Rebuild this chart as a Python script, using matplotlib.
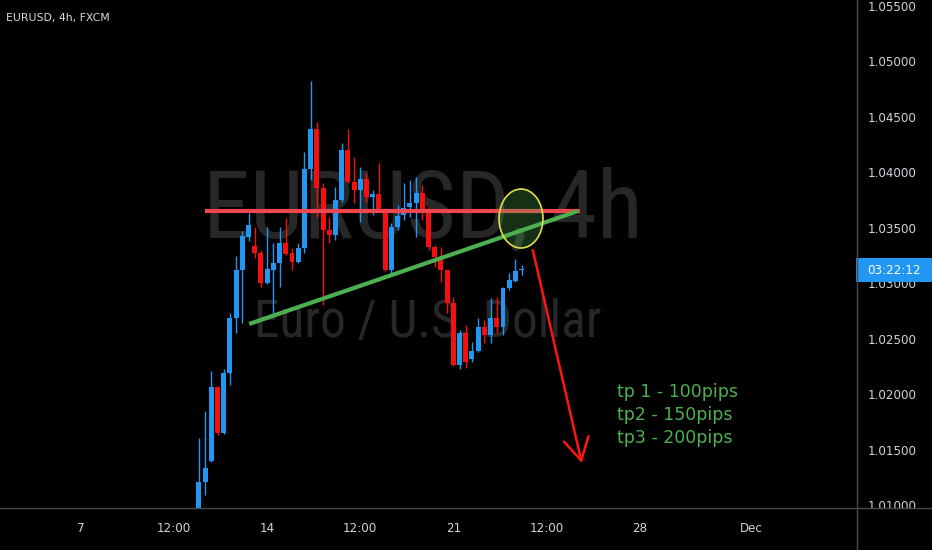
import matplotlib
matplotlib.use('Agg')
import matplotlib.pyplot as plt
from matplotlib import font_manager as fm
from matplotlib.patches import Rectangle, Ellipse
from matplotlib.lines import Line2D
from matplotlib.transforms import blended_transform_factory
import numpy as np

# ---------------- data ----------------
symbol_title = "EURUSD, 4h, FXCM"
watermark = "EURUSD, 4h"
watermark_sub = "Euro / U.S. Dollar"
countdown = "03:22:12"

# bar number (4h bars, weekends skipped; bar 0 = Mon 7 Nov 00:00)
bar_index = list(range(19, 72))
opens = [1.00850, 1.01207, 1.01400, 1.02063, 1.01649, 1.02189, 1.02685, 1.03117, 1.03414, 1.03333,
         1.03270, 1.03000, 1.03117, 1.03180, 1.03360, 1.03270, 1.03189, 1.03315, 1.04027, 1.04387,
         1.03856, 1.03477, 1.03432, 1.03748, 1.04198, 1.03910, 1.03838, 1.03937, 1.03775, 1.03802,
         1.03658, 1.03117, 1.03505, 1.03613, 1.03685, 1.03721, 1.03811, 1.03640, 1.03324, 1.03234,
         1.03117, 1.02820, 1.02261, 1.02550, 1.02315, 1.02387, 1.02604, 1.02532, 1.02685, 1.02604,
         1.02955, 1.03018, 1.03117]
highs = [1.01604, 1.01847, 1.02207, 1.02070, 1.02225, 1.02730, 1.03243, 1.03468, 1.03631, 1.03505,
         1.03297, 1.03505, 1.03360, 1.03505, 1.03586, 1.03315, 1.03360, 1.04180, 1.04820, 1.04450,
         1.03901, 1.03595, 1.03865, 1.04261, 1.04387, 1.04135, 1.04045, 1.03991, 1.03838, 1.04081,
         1.03676, 1.03541, 1.03703, 1.03901, 1.03928, 1.03955, 1.03883, 1.03685, 1.03342, 1.03324,
         1.03117, 1.02874, 1.02577, 1.02622, 1.02468, 1.02685, 1.02667, 1.02865, 1.02874, 1.02964,
         1.03090, 1.03216, 1.03162]
lows = [1.00800, 1.01090, 1.01390, 1.01631, 1.01640, 1.02081, 1.02550, 1.02640, 1.03378, 1.03225,
        1.02964, 1.02990, 1.02694, 1.02964, 1.03252, 1.03117, 1.03180, 1.03270, 1.03928, 1.03595,
        1.02802, 1.03360, 1.03387, 1.03730, 1.03901, 1.03721, 1.03550, 1.03730, 1.03613, 1.03640,
        1.03108, 1.03081, 1.03477, 1.03568, 1.03595, 1.03414, 1.03568, 1.03297, 1.03144, 1.03009,
        1.02730, 1.02250, 1.02225, 1.02234, 1.02288, 1.02378, 1.02459, 1.02459, 1.02550, 1.02532,
        1.02937, 1.03009, 1.03072]
closes = [1.01207, 1.01333, 1.02063, 1.01649, 1.02189, 1.02685, 1.03117, 1.03423, 1.03523, 1.03270,
          1.03000, 1.03126, 1.03180, 1.03360, 1.03261, 1.03189, 1.03315, 1.04027, 1.04387, 1.03856,
          1.03477, 1.03432, 1.03748, 1.04198, 1.03910, 1.03838, 1.03937, 1.03775, 1.03802, 1.03658,
          1.03117, 1.03505, 1.03604, 1.03676, 1.03721, 1.03811, 1.03640, 1.03324, 1.03234, 1.03117,
          1.02820, 1.02261, 1.02550, 1.02288, 1.02387, 1.02604, 1.02532, 1.02685, 1.02604, 1.02955,
          1.03027, 1.03108, 1.03126]

x_tick_pos = [0, 15, 30, 45, 60, 75, 90, 108]
x_tick_labels = ['7', '12:00', '14', '12:00', '21', '12:00', '28', 'Dec']
y_ticks = [1.010, 1.015, 1.020, 1.025, 1.030, 1.035, 1.040, 1.045, 1.050, 1.055]

resistance_level = 1.03649
resistance_span = [20.0, 80.4]
trend_x = [27.1, 80.1]
trend_y = [1.02631, 1.03649]
zone_center = (70.9, 1.03581)
arrow_start = (72.8, 1.03297)
arrow_end = (80.7, 1.01378)
targets = ["tp 1 - 100pips", "tp2 - 150pips", "tp3 - 200pips"]

# ---------------- style ----------------
W, H, DPI = 932, 550, 100
BG = '#000000'
UP = '#2196f3'
DOWN = '#f50f0f'
TXT = '#d1d4dc'
SEP = '#4a4a4a'
plot_w_px, plot_h_px = 857, 508
xlim = (-13.05, 125.04)
ylim = (1.00973, 1.05550)

plt.rcParams['font.family'] = ['DejaVu Sans']
fig = plt.figure(figsize=(W / DPI, H / DPI), dpi=DPI, facecolor=BG)
ax = fig.add_axes([0, (H - plot_h_px) / H, plot_w_px / W, plot_h_px / H], facecolor=BG)
ax.set_xlim(*xlim)
ax.set_ylim(*ylim)
for s in ax.spines.values():
    s.set_visible(False)

px_per_price = plot_h_px / (ylim[1] - ylim[0])
px_per_bar = plot_w_px / (xlim[1] - xlim[0])

# candles
o = np.array(opens); c = np.array(closes)
cols = [UP if cc >= oo else DOWN for oo, cc in zip(o, c)]
ax.vlines(bar_index, lows, highs, colors=cols, lw=1.0, zorder=2)
body_bottom = np.minimum(o, c)
body_h = np.maximum(np.abs(c - o), 1.2 / px_per_price)
ax.bar(bar_index, body_h, bottom=body_bottom, width=0.8, color=cols, lw=0, zorder=3)

# axes ticks
ax.yaxis.tick_right()
ax.set_yticks(y_ticks)
ax.set_yticklabels([f'{v:.5f}' for v in y_ticks])
ax.set_xticks(x_tick_pos)
ax.set_xticklabels(x_tick_labels)
ax.tick_params(axis='y', length=0, pad=8, labelsize=8.6, labelcolor=TXT)
ax.tick_params(axis='x', length=0, pad=10, labelsize=8.6, labelcolor=TXT)

# pick a narrow font for the watermark
avail = {f.name for f in fm.fontManager.ttflist}
wm_fp = None
for cand in ['Roboto Condensed', 'Open Sans Condensed', 'Liberation Sans Narrow', 'Noto Sans Condensed']:
    if cand in avail:
        wm_fp = fm.FontProperties(family=cand)
        break
if wm_fp is None:
    if any(f.name == 'DejaVu Sans' and f.stretch == 'condensed' for f in fm.fontManager.ttflist):
        wm_fp = fm.FontProperties(family='DejaVu Sans', stretch='condensed')
    else:
        wm_fp = fm.FontProperties(family='DejaVu Sans')

wm1 = ax.text(0.493, 1 - 237 / plot_h_px, watermark, transform=ax.transAxes, ha='center',
              va='baseline', color='#272727', fontproperties=wm_fp, fontsize=80, zorder=0.5)
wm2 = ax.text(0.499, 1 - 337 / plot_h_px, watermark_sub, transform=ax.transAxes, ha='center',
              va='baseline', color='#272727', fontproperties=wm_fp, fontsize=40, zorder=0.5)
fig.canvas.draw()
r = fig.canvas.get_renderer()
wm1.set_fontsize(80 * 440 / wm1.get_window_extent(r).width)
wm2.set_fontsize(40 * 348 / wm2.get_window_extent(r).width)

# clip right-axis labels at the time-axis separator
clip_rect = Rectangle((plot_w_px / W, (H - plot_h_px) / H), 1 - plot_w_px / W, plot_h_px / H,
                      transform=fig.transFigure)
for tk in ax.yaxis.get_major_ticks():
    for lbl in (tk.label1, tk.label2):
        lbl.set_clip_path(clip_rect)
        lbl.set_clip_on(True)

# drawings
ax.plot(resistance_span, [resistance_level] * 2, color='#f0464f', lw=3.0, solid_capstyle='butt', zorder=4)
ax.plot(trend_x, trend_y, color='#4caf50', lw=3.0, solid_capstyle='butt', zorder=4)
ax.add_patch(Ellipse(zone_center, 44 / px_per_bar, 59 / px_per_price,
                     fc=(0.30, 0.69, 0.31, 0.28), ec='#e3df4a', lw=1.2, zorder=5))
ax.annotate('', xy=arrow_end, xytext=arrow_start,
            arrowprops=dict(arrowstyle='->,head_length=0.8,head_width=0.45', color='#ff1414',
                            lw=1.8, mutation_scale=20, shrinkA=0, shrinkB=0), zorder=5)
for k, t in enumerate(targets):
    ax.text(617 / plot_w_px, 1 - (397.3 + 22.7 * k) / plot_h_px, t, transform=ax.transAxes,
            ha='left', va='baseline', color='#4caf50', fontsize=12.5, zorder=6)

# countdown label on price scale
bt = blended_transform_factory(fig.transFigure, ax.transData)
box_h = 24 / px_per_price
box_c = closes[-1] - 1 / px_per_price
ax.add_patch(Rectangle((856 / W, box_c - box_h / 2), 76 / W, box_h, transform=bt,
                       fc=UP, ec='none', clip_on=False, zorder=7))
ax.text(894 / W, box_c, countdown, transform=bt, ha='center', va='center', color='white',
        fontsize=8.6, clip_on=False, zorder=8)

# title
fig.text(6 / W, 1 - 18 / H, symbol_title, ha='left', va='center', color='#d9d9d9', fontsize=7.8)

# separators
fig.add_artist(Line2D([0, 1], [(H - plot_h_px) / H] * 2, transform=fig.transFigure, color=SEP, lw=1))
fig.add_artist(Line2D([plot_w_px / W] * 2, [0, 1], transform=fig.transFigure, color=SEP, lw=1))

fig.savefig('out.png', dpi=DPI, facecolor=BG)
